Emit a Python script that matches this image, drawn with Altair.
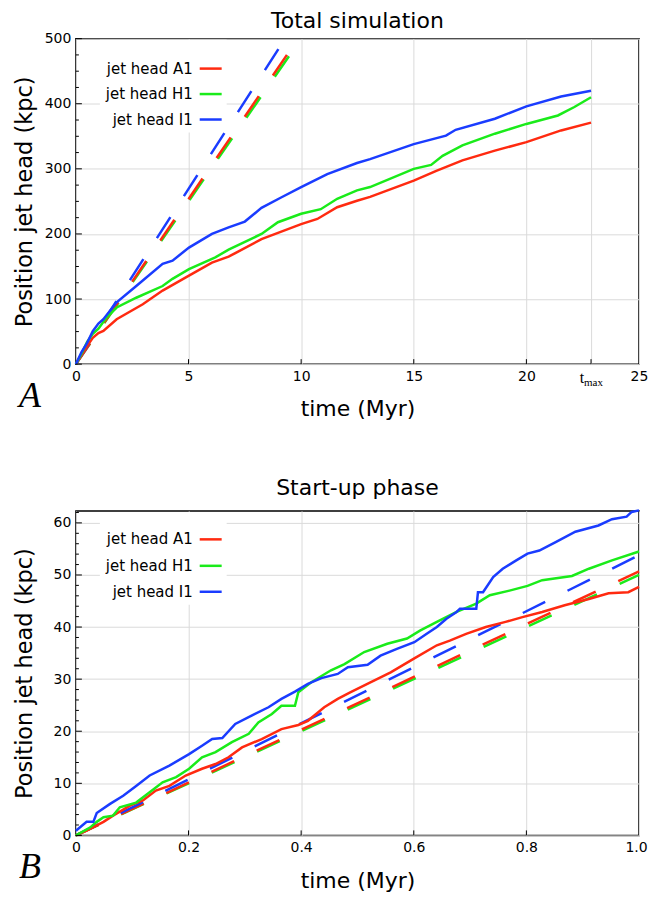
import altair as alt
import pandas as pd

# ---------------- data ----------------
series = ["jet head A1", "jet head H1", "jet head I1"]
colors = ["#ff2a10", "#1aeb1a", "#1a3cff"]

# Total simulation (time in Myr, position in kpc)
a1_total_t = [0, 0.25, 0.5, 0.75, 1.0, 1.22, 1.81, 2.97, 3.85, 5.02, 6.04, 6.78, 8.24, 10.0, 10.72,
              11.6, 12.48, 13.06, 15.0, 16.0, 17.16, 18.6, 20.0, 21.54, 22.87]
a1_total_y = [0, 13.7, 27.8, 40.5, 47.7, 51, 69, 92, 113, 136, 156, 165, 192, 215, 223,
              241, 251, 257, 282, 297, 313, 328, 341, 359, 371]
h1_total_t = [0, 0.25, 0.5, 0.75, 1.0, 1.37, 1.81, 2.68, 3.85, 4.29, 5.02, 6.19, 6.78, 8.24, 8.97,
              10.0, 10.87, 11.6, 12.48, 13.06, 15.0, 15.77, 16.28, 17.16, 18.6, 20.0, 21.4, 22.13, 22.87]
h1_total_y = [0, 16.0, 34.2, 46.6, 54.5, 72, 87, 102, 120, 131, 146, 164, 176, 200, 218,
              231, 238, 254, 267, 272, 300, 306, 320, 336, 354, 369, 382, 395, 410]
i1_total_t = [0, 0.25, 0.5, 0.75, 1.0, 1.22, 1.81, 2.68, 3.85, 4.29, 5.02, 6.04, 6.78, 7.5, 8.24,
              9.11, 10.0, 11.16, 12.48, 13.06, 15.0, 16.43, 16.86, 18.6, 20.0, 21.54, 22.87]
i1_total_y = [0, 18.6, 32.6, 50.5, 62.4, 69, 95, 120, 154, 159, 179, 200, 210, 219, 240,
              256, 272, 292, 309, 315, 338, 351, 360, 377, 396, 411, 420]

# Start-up phase
a1_start_t = [0, 0.019, 0.049, 0.066, 0.096, 0.119, 0.142, 0.166, 0.195, 0.224, 0.248, 0.271, 0.295,
              0.330, 0.365, 0.395, 0.412, 0.441, 0.465, 0.488, 0.523, 0.559, 0.601, 0.641, 0.664,
              0.693, 0.728, 0.763, 0.793, 0.828, 0.868, 0.911, 0.946, 0.981, 1.0]
a1_start_y = [0, 0.9, 2.6, 3.8, 5.7, 6.7, 8.6, 9.5, 11.5, 12.8, 13.7, 15.0, 16.9,
              18.5, 20.4, 21.2, 22.0, 24.6, 26.2, 27.5, 29.4, 31.3, 34.0, 36.5, 37.4,
              38.7, 40.0, 41.0, 41.9, 42.9, 44.2, 45.4, 46.5, 46.7, 47.7]
h1_start_t = [0, 0.025, 0.037, 0.049, 0.066, 0.078, 0.107, 0.131, 0.154, 0.178, 0.201, 0.224, 0.248,
              0.277, 0.307, 0.324, 0.348, 0.365, 0.389, 0.395, 0.418, 0.453, 0.477, 0.512, 0.553,
              0.588, 0.611, 0.641, 0.676, 0.711, 0.735, 0.770, 0.802, 0.828, 0.881, 0.911, 0.952, 1.0]
h1_start_y = [0, 1.5, 2.6, 3.5, 3.8, 5.4, 6.3, 8.3, 10.2, 11.2, 12.8, 15.0, 16.0,
              17.9, 19.5, 21.7, 23.3, 24.9, 24.9, 27.5, 29.4, 31.7, 32.9, 35.2, 36.8,
              37.8, 39.3, 41.0, 42.9, 44.5, 46.1, 47.0, 47.9, 49.0, 49.8, 51.2, 52.8, 54.5]
i1_start_t = [0, 0.0106, 0.019, 0.031, 0.037, 0.060, 0.084, 0.107, 0.131, 0.166, 0.201, 0.224, 0.242,
              0.260, 0.283, 0.312, 0.342, 0.365, 0.389, 0.412, 0.436, 0.465, 0.483, 0.518, 0.541,
              0.570, 0.601, 0.623, 0.641, 0.658, 0.676, 0.682, 0.711, 0.714, 0.723, 0.741, 0.758,
              0.782, 0.802, 0.823, 0.852, 0.887, 0.928, 0.952, 0.978, 0.987, 1.0]
i1_start_y = [0.9, 1.85, 2.6, 2.6, 4.3, 6.0, 7.6, 9.5, 11.5, 13.4, 15.6, 17.2, 18.5,
              18.7, 21.4, 23.0, 24.6, 26.2, 27.6, 29.1, 30.2, 31.0, 32.3, 32.75, 34.5,
              35.8, 37.1, 38.7, 40.0, 41.6, 42.9, 43.5, 43.5, 46.7, 46.7, 49.6, 51.2,
              52.8, 54.1, 54.7, 56.3, 58.3, 59.5, 60.7, 61.2, 62.1, 62.4]

# Dashed reference lines (straight, from the origin): end points
dash_start_t = [0, 0, 0]
dash_start_y = [0, 0, 0]
dash_total_end_t = [9.86, 10.0, 9.29]
dash_total_end_y = [500, 500, 500]
dash_startup_end_t = [1.0, 1.0, 1.0]
dash_startup_end_y = [50.7, 50.0, 53.8]

t_max = 22.87

# axis ticks
total_x_grid = [0, 5, 10, 15, 20, t_max, 25]
total_y_ticks = [0, 100, 200, 300, 400, 500]
total_y_minor = [25, 50, 75, 125, 150, 175, 225, 250, 275, 325, 350, 375, 425, 450, 475]
total_x_inner = [5, 10, 15, 20, t_max]
start_x_ticks = [0, 0.2, 0.4, 0.6, 0.8, 1.0]
start_y_ticks = [0, 10, 20, 30, 40, 50, 60]
start_y_minor = [2, 4, 6, 8, 12, 14, 16, 18, 22, 24, 26, 28, 32, 34, 36, 38, 42, 44, 46, 48,
                 52, 54, 56, 58, 62]
start_x_inner = [0.2, 0.4, 0.6, 0.8]

FONT = "DejaVu Sans"
W = 564


def solid_frames(ts, ys):
    return [pd.DataFrame({"t": t, "y": y}) for t, y in zip(ts, ys)]


def dashed_frames(end_t, end_y):
    return [pd.DataFrame({"t": [dash_start_t[i], end_t[i]], "y": [dash_start_y[i], end_y[i]]})
            for i in range(3)]


def panel(title, letter, solids, dashes, xdom, ydom, xvals, xlabel_expr, yvals, y_title_pad,
          x_title_pad, title_offset, y_minor, x_inner, H, legend_rows, extra=None,
          x_label_offset=0):
    xs = alt.Scale(domain=xdom, nice=False, zero=False)
    ys = alt.Scale(domain=ydom, nice=False, zero=False)
    xaxis = alt.Axis(values=xvals, labelExpr=xlabel_expr, grid=True, ticks=False, domain=False,
                     gridColor="#dadada", gridWidth=1, labelFont=FONT, labelFontSize=14,
                     labelColor="black", labelPadding=5, labelFlush=False, labelOverlap=False,
                     labelOffset=x_label_offset,
                     title="time (Myr)", titleFont=FONT, titleFontSize=22,
                     titleFontWeight="normal", titleColor="black", titlePadding=x_title_pad)
    yaxis = alt.Axis(values=yvals, grid=True, ticks=False, domain=False,
                     gridColor="#dadada", gridWidth=1, labelFont=FONT, labelFontSize=14,
                     labelColor="black", labelPadding=5, labelFlush=False, labelOverlap=False,
                     title="Position jet head (kpc)", titleFont=FONT, titleFontSize=22.5,
                     titleFontWeight="normal", titleColor="black", titlePadding=y_title_pad)
    X = alt.X("t:Q", scale=xs, axis=xaxis)
    Y = alt.Y("y:Q", scale=ys, axis=yaxis)

    one = pd.DataFrame({"k": [0]})
    layers = []
    # white legend box
    layers.append(alt.Chart(one).mark_rect(color="white").encode(
        x=alt.value(24), x2=alt.value(151), y=alt.value(1), y2=alt.value(94)))
    # dashed lines: green, red, blue
    for i in [1, 0, 2]:
        layers.append(alt.Chart(dashes[i]).mark_line(
            color=colors[i], strokeWidth=2.5, strokeDash=[25, 25]).encode(x=X, y=Y))
    # solid lines
    for i in [0, 1, 2]:
        layers.append(alt.Chart(solids[i]).mark_line(
            color=colors[i], strokeWidth=2.5).encode(x=X, y=Y))
    # inner ticks
    layers.append(alt.Chart(pd.DataFrame({"y": yvals})).mark_rule(color="black", strokeWidth=1).encode(
        y=Y, x=alt.value(0), x2=alt.value(6)))
    layers.append(alt.Chart(pd.DataFrame({"y": y_minor})).mark_rule(color="black", strokeWidth=1).encode(
        y=Y, x=alt.value(0), x2=alt.value(3)))
    layers.append(alt.Chart(pd.DataFrame({"t": x_inner})).mark_rule(color="black", strokeWidth=1).encode(
        x=X, y=alt.value(H), y2=alt.value(H - 5)))
    # legend entries
    for i, s in enumerate(series):
        ly = legend_rows[i]
        layers.append(alt.Chart(pd.DataFrame({"label": [s]})).mark_text(
            align="right", baseline="middle", font=FONT, fontSize=15, color="black").encode(
            text="label:N", x=alt.value(117), y=alt.value(ly)))
        layers.append(alt.Chart(one).mark_rule(color=colors[i], strokeWidth=2.5).encode(
            x=alt.value(124), x2=alt.value(146), y=alt.value(ly)))
    # panel letter
    layers.append(alt.Chart(pd.DataFrame({"label": [letter]})).mark_text(
        font="Liberation Serif", fontStyle="italic", fontSize=36, align="center",
        baseline="middle", color="black").encode(
        text="label:N", x=alt.value(-46), y=alt.value(H + 32)))
    if extra:
        layers.extend(extra(X, H))
    return alt.layer(*layers).properties(
        width=W, height=H,
        title=alt.TitleParams(title, font=FONT, fontSize=22, fontWeight="normal", color="black",
                              anchor="middle", frame="group", offset=title_offset))


def tmax_labels(X, H):
    d = pd.DataFrame({"t": [t_max], "a": ["t"], "b": ["max"]})
    return [
        alt.Chart(d).mark_text(font="Liberation Serif", fontSize=16, align="center",
                               baseline="alphabetic", dx=-9, color="black").encode(
            x=X, y=alt.value(H + 19), text="a:N"),
        alt.Chart(d).mark_text(font="Liberation Serif", fontSize=11, align="left",
                               baseline="alphabetic", dx=-7, color="black").encode(
            x=X, y=alt.value(H + 22), text="b:N"),
    ]


top = panel("Total simulation", "A",
            solid_frames([a1_total_t, h1_total_t, i1_total_t], [a1_total_y, h1_total_y, i1_total_y]),
            dashed_frames(dash_total_end_t, dash_total_end_y),
            [0, 25], [0, 500], total_x_grid,
            "datum.value > 22 && datum.value < 24 ? '' : datum.label",
            total_y_ticks, 8, 15, -1, total_y_minor, total_x_inner, 326, [30, 55.5, 81], tmax_labels)

bottom = panel("Start-up phase", "B",
               solid_frames([a1_start_t, h1_start_t, i1_start_t], [a1_start_y, h1_start_y, i1_start_y]),
               dashed_frames(dash_startup_end_t, dash_startup_end_y),
               [0, 1.0], [0, 62.3], start_x_ticks,
               "datum.value == 0 ? '0' : format(datum.value, '.1f')",
               start_y_ticks, 17, 16, 5, start_y_minor, start_x_inner, 325, [28.5, 55, 81],
               x_label_offset={"condition": {"test": "datum.value >= 0.99", "value": -3}, "value": 0})

chart = alt.vconcat(top, bottom, spacing=56).properties(
    padding={"left": 4, "top": 0, "right": 0, "bottom": 1}
).configure_view(stroke="black", strokeWidth=1.5)

chart.save("out.html", embed_options={"renderer": "svg", "actions": False})
